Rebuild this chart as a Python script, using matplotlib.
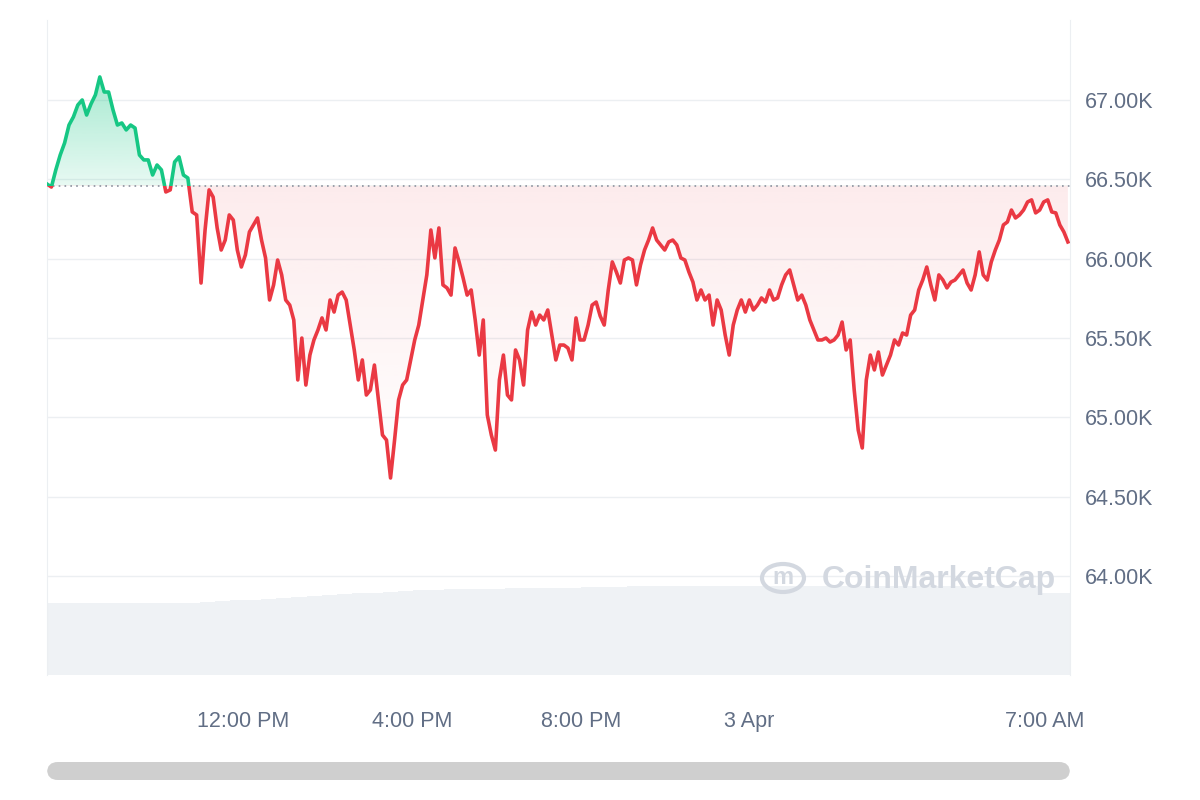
import numpy as np
import matplotlib
matplotlib.use("Agg")
import matplotlib.pyplot as plt
from matplotlib.patches import Rectangle, FancyBboxPatch, Circle, PathPatch

plt.rcParams['font.family'] = ['Liberation Sans', 'DejaVu Sans']

prices = [66470,66451,66559,66653,66729,66842,66893,66968,67000,66905,66975,67032,67145,67050,67050,66937,66842,66855,66811,66842,66823,66653,66622,66622,66527,66590,66559,66420,66433,66609,66641,66527,66508,66294,66275,65846,66180,66433,66388,66193,66054,66117,66275,66243,66054,65947,66023,66168,66212,66256,66117,66004,65739,65834,65991,65897,65739,65707,65613,65235,65499,65203,65392,65487,65550,65626,65550,65739,65663,65770,65789,65739,65581,65424,65235,65361,65140,65172,65329,65109,64888,64856,64617,64856,65109,65203,65235,65361,65487,65581,65739,65897,66180,66004,66193,65834,65815,65770,66067,65979,65878,65770,65802,65613,65392,65613,65014,64888,64793,65235,65392,65140,65109,65424,65361,65203,65550,65663,65581,65644,65613,65676,65518,65361,65455,65455,65436,65361,65626,65487,65487,65581,65707,65726,65638,65581,65802,65979,65916,65846,65991,66004,65991,65834,65960,66054,66117,66193,66117,66086,66054,66105,66117,66086,66004,65991,65916,65852,65739,65802,65739,65770,65581,65739,65676,65518,65392,65581,65676,65739,65663,65739,65676,65707,65752,65726,65802,65739,65752,65834,65897,65928,65834,65739,65770,65707,65613,65550,65487,65487,65499,65474,65487,65518,65600,65424,65487,65172,64919,64806,65235,65392,65298,65411,65266,65329,65392,65487,65455,65531,65518,65644,65676,65802,65865,65947,65834,65739,65897,65865,65815,65852,65865,65897,65928,65846,65802,65897,66042,65897,65865,65979,66054,66117,66212,66231,66306,66256,66275,66306,66357,66370,66288,66306,66357,66370,66294,66288,66212,66168,66105]
baseline = 66460
volume = [72,72,72,72,72,72,72,72,72,72,73,74,75,75,76,77,78,79,80,81,82,82,83,84,85,85,86,86,86,86,87,87,87,87,87,88,88,88,89,89,89,89,89,89,89,89,89,89,89,89,89,89,89,89,89,89,89,89,89,89,89,89,89,89,89,82,82]
y_ticks = [64000,64500,65000,65500,66000,66500,67000]
y_labels = ["64.00K","64.50K","65.00K","65.50K","66.00K","66.50K","67.00K"]
x_ticks = [12,16,20,24,31]
x_labels = ["12:00 PM","4:00 PM","8:00 PM","3 Apr","7:00 AM"]
anchor_idx = [0, 35, len(prices)-1]
anchor_hr = [7.356, 11.005, 31.54]

xmin, xmax = 7.356, 31.59
ymin, ymax = 63375, 67504
t = np.interp(np.arange(len(prices)), anchor_idx, anchor_hr)
p = np.array(prices)

fig = plt.figure(figsize=(12, 8), dpi=100)
ax = fig.add_axes([47/1200, 1-675/800, 1023/1200, 655/800])
ax.set_xlim(xmin, xmax); ax.set_ylim(ymin, ymax)

axv = ax.twinx()
axv.set_ylim(0, 655)
tv = np.linspace(xmin, xmax, len(volume)+1)
axv.bar(tv[:-1], volume, width=(tv[1]-tv[0])*1.02, align='edge', color='#eff2f5', edgecolor='none', zorder=0)
axv.axis('off')
ax.set_zorder(axv.get_zorder()+1); ax.patch.set_visible(False)

for yv in y_ticks:
    ax.axhline(yv, color='#eceff2', lw=1, zorder=0)

green, red = '#16c784', '#ea3943'
above = Rectangle((xmin, baseline), xmax-xmin, ymax-baseline, transform=ax.transData, visible=False)
below = Rectangle((xmin, ymin), xmax-xmin, baseline-ymin, transform=ax.transData, visible=False)
ax.add_patch(above); ax.add_patch(below)

fg = ax.fill_between(t, p, baseline, color='none')
grad_g = np.linspace(0.1, 0.38, 100).reshape(-1, 1)
im = ax.imshow(np.dstack([np.full((100,1),0x16/255), np.full((100,1),0xc7/255), np.full((100,1),0x84/255), grad_g]),
               extent=[xmin, xmax, baseline, 67150], aspect='auto', origin='lower', zorder=1)
grad_r = np.linspace(0.0, 0.1, 100).reshape(-1, 1)
im2 = ax.imshow(np.dstack([np.full((100,1),0xea/255), np.full((100,1),0x39/255), np.full((100,1),0x43/255), grad_r]),
               extent=[xmin, xmax, 64600, baseline], aspect='auto', origin='lower', zorder=1)
pp = PathPatch(fg.get_paths()[0], transform=ax.transData, visible=False)
ax.add_patch(pp)
im.set_clip_path(pp); im2.set_clip_path(pp)

lg, = ax.plot(t, p, color=green, lw=2.6, zorder=3)
lg.set_clip_path(above)
lr, = ax.plot(t, p, color=red, lw=2.6, zorder=3)
lr.set_clip_path(below)

ax.axhline(baseline, color='#8a919e', lw=1.2, ls=(0, (1, 2.5)), zorder=2)

ax.yaxis.tick_right()
ax.set_yticks(y_ticks); ax.set_yticklabels(y_labels)
ax.set_xticks(x_ticks); ax.set_xticklabels(x_labels)
ax.tick_params(length=0, labelsize=15.5, colors='#616e85', pad=11)
ax.tick_params(axis='x', pad=26)
for s in ['top', 'bottom']:
    ax.spines[s].set_visible(False)
for s in ['left', 'right']:
    ax.spines[s].set_color('#eceff2')

fig.text(822/1200, 1-580/800, 'CoinMarketCap', fontsize=23, color='#d3d8e0', va='center', ha='left', fontweight='bold')
fig.patches.append(Circle((783/1200, 1-578/800), 0.0175, transform=fig.transFigure, fill=False, ec='#d3d8e0', lw=3))
fig.text(783/1200, 1-578/800, 'm', fontsize=17, color='#d3d8e0', ha='center', va='center', fontweight='bold')

fig.patches.append(FancyBboxPatch((47/1200, 1-780/800), 1023/1200, 18/800, boxstyle='round,pad=0,rounding_size=0.009',
                                  transform=fig.transFigure, fc='#cfcfcf', ec='none', mutation_aspect=1.5))

fig.savefig('out.png', dpi=100)
